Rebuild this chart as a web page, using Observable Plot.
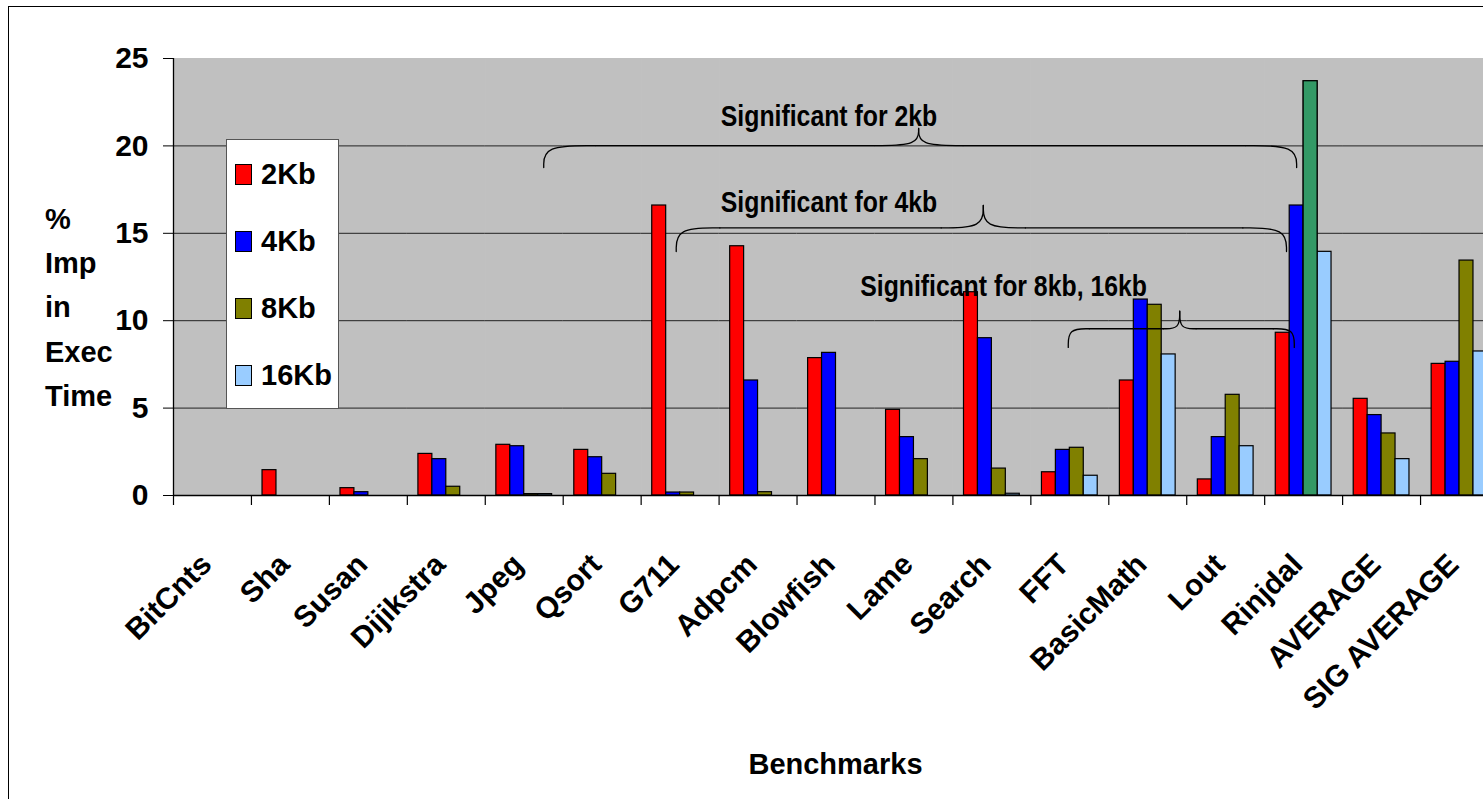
<!DOCTYPE html>
<html>
<head>
<meta charset="utf-8">
<script src="https://cdn.jsdelivr.net/npm/d3@7"></script>
<script src="https://cdn.jsdelivr.net/npm/@observablehq/plot@0.6"></script>
<style>
html,body{margin:0;padding:0;background:#fff;overflow:hidden;}
#wrap{position:relative;width:1483px;height:799px;overflow:hidden;font-family:"Liberation Sans",Arial,Helvetica,sans-serif;font-weight:bold;color:#000;}
#wrap svg{position:absolute;left:0;top:0;}
#outer{position:absolute;left:8px;top:6px;width:2000px;height:2000px;border:1.5px solid #000;pointer-events:none;}
#ylabel{position:absolute;left:45px;top:197px;font-size:29px;line-height:44.2px;}
#xlabel{position:absolute;left:173px;width:1325px;top:750px;text-align:center;font-size:29px;line-height:29px;}
#legend{position:absolute;left:226px;top:139px;width:113px;height:270px;box-sizing:border-box;background:#fff;border:1px solid #555;padding-top:1px;}
.row{height:67px;display:flex;align-items:center;padding-left:8px;font-size:29px;}
.sw{width:17px;height:21px;box-sizing:border-box;border:1px solid #000;margin-right:9px;flex:none;}
</style>
</head>
<body>
<div id="wrap"></div>
<script>
// ---- data ----
const categories = ["BitCnts","Sha","Susan","Dijikstra","Jpeg","Qsort","G711","Adpcm","Blowfish","Lame","Search","FFT","BasicMath","Lout","Rinjdal","AVERAGE","SIG AVERAGE"];
const series = ["2Kb","4Kb","8Kb","16Kb"];
const seriesColors = ["#ff0000","#0000ff","#808000","#99ccff"];
const values2Kb  = [0, 1.45, 0.42, 2.38, 2.90, 2.61, 16.59, 14.26, 7.86, 4.90, 11.63, 1.33, 6.58, 0.92, 9.31, 5.53, 7.53];
const values4Kb  = [0, 0, 0.19, 2.08, 2.82, 2.19, 0.17, 6.58, 8.16, 3.34, 9.00, 2.61, 11.21, 3.34, 16.59, 4.60, 7.65];
const values8Kb  = [0, 0, 0, 0.50, 0.08, 1.24, 0.17, 0.19, 0, 2.08, 1.54, 2.73, 10.91, 5.76, 23.70, 3.55, 13.44];
const values16Kb = [0, 0, 0, 0, 0.08, 0, 0, 0, 0, 0, 0.10, 1.13, 8.07, 2.82, 13.94, 2.08, 8.24];
const highlightCategory = "Rinjdal";
const highlightSeries = "8Kb";
const highlightColor = "#339966";
const yTicks = [0, 5, 10, 15, 20, 25];
const gridValues = [5, 10, 15, 20];
const yTitleLines = ["%", "Imp", "in", "Exec", "Time"];
const xTitle = "Benchmarks";

// annotations (x in category-index units, y in % units)
const braceLabels = ["Significant for 2kb", "Significant for 4kb", "Significant for 8kb, 16kb"];
const braceLabelX = [8.41, 8.41, 10.65];
const braceLabelY = [21.14, 16.2, 11.44];
const braceStart = [4.75, 6.45, 11.48];
const braceMid   = [9.56, 10.39, 12.91];
const braceEnd   = [14.41, 14.28, 14.38];
const braceTip   = [18.76, 13.96, 8.47];
const braceLevel = [20.02, 15.31, 9.54];
const braceCusp  = [21.0, 16.59, 10.54];
const braceCurl  = [0.66, 0.56, 0.27];
const braceNotch = [0.57, 0.54, 0.21];

// ---- build tables ----
const seriesValues = [values2Kb, values4Kb, values8Kb, values16Kb];
const rows = [];
categories.forEach((c, i) => series.forEach((s, j) => rows.push({cat: c, series: s, value: seriesValues[j][i]})));
const highlightRows = rows.filter(d => d.cat === highlightCategory && d.series === highlightSeries);
const categoryEdges = categories.map((_, i) => i);

const bracePoints = [];
braceLabels.forEach((_, i) => {
  const x1 = braceStart[i], xm = braceMid[i], x2 = braceEnd[i];
  const yt = braceTip[i], yl = braceLevel[i], yc = braceCusp[i];
  const w = braceCurl[i], c = braceNotch[i];
  const segs = [
    [[x1, yt], [x1, yl], [x1 + w, yl]],
    [[x1 + w, yl], [xm - c, yl]],
    [[xm - c, yl], [xm, yl], [xm, yc]],
    [[xm, yc], [xm, yl], [xm + c, yl]],
    [[xm + c, yl], [x2 - w, yl]],
    [[x2 - w, yl], [x2, yl], [x2, yt]]
  ];
  segs.forEach((seg, k) => seg.forEach(([x, y]) => bracePoints.push({x, y, seg: i + "-" + k})));
});

// ---- layout ----
const W = 1483, H = 799, ML = 173, MR = -15, MT = 58, MB = 304;
const FONT = "'Liberation Sans', Arial, Helvetica, sans-serif";
const baseStyle = {background: "transparent", overflow: "hidden", fontFamily: FONT, fontSize: "30px", fontWeight: "bold", color: "#000"};

const main = Plot.plot({
  width: W, height: H, marginLeft: ML, marginRight: MR, marginTop: MT, marginBottom: MB,
  style: baseStyle,
  fx: {domain: categories, padding: 0, round: false, axis: "bottom", label: null, tickRotate: -45, tickSize: 0, tickPadding: 64},
  x: {domain: series, paddingInner: 0, paddingOuter: 0.795, round: false, axis: null},
  y: {domain: [0, 25], ticks: yTicks, tickSize: 10, tickPadding: 15, label: null},
  color: {domain: series, range: seriesColors},
  marks: [
    Plot.frame({fill: "#c0c0c0", stroke: "#c0c0c0"}),
    Plot.ruleY(gridValues, {stroke: "#222", strokeWidth: 1}),
    Plot.barY(rows, {fx: "cat", x: "series", y: "value", fill: "series", stroke: "#000", strokeWidth: 1.2}),
    Plot.barY(highlightRows, {fx: "cat", x: "series", y: "value", fill: highlightColor, stroke: "#000", strokeWidth: 1.2})
  ]
});

const overlay = Plot.plot({
  width: W, height: H, marginLeft: ML, marginRight: MR, marginTop: MT, marginBottom: MB,
  style: baseStyle,
  x: {type: "linear", domain: [0, categories.length], axis: null},
  y: {domain: [0, 25], axis: null},
  marks: [
    Plot.ruleY([0], {stroke: "#000", strokeWidth: 1.3}),
    Plot.ruleX([0], {y1: 0, y2: 25, stroke: "#000", strokeWidth: 1.3}),
    Plot.ruleX(categoryEdges, {y1: 0, y2: 0, insetBottom: -10, stroke: "#000", strokeWidth: 1.2}),
    Plot.line(bracePoints, {x: "x", y: "y", z: "seg", curve: "basis", stroke: "#000", strokeWidth: 1.3}),
    Plot.text(braceLabels, {x: (d, i) => braceLabelX[i], y: (d, i) => braceLabelY[i], text: d => d, lineAnchor: "bottom", textAnchor: "middle", fontSize: 30, fontWeight: "bold", fill: "#000"})
  ]
});

const wrap = document.getElementById("wrap");
wrap.appendChild(main);
wrap.appendChild(overlay);

// nudge the rotated category labels so their ends sit just left of each category centre
d3.select(main).selectAll("g[aria-label^='fx-axis']").each(function() {
  const t = this.getAttribute("transform") || "";
  this.setAttribute("transform", "translate(-6,0) " + t);
});

// condensed annotation lettering
d3.select(overlay).selectAll("g[aria-label='text'] text").each(function() {
  const L = this.getComputedTextLength();
  this.setAttribute("textLength", (L * 0.827).toFixed(1));
  this.setAttribute("lengthAdjust", "spacingAndGlyphs");
});

// legend
const legend = document.createElement("div");
legend.id = "legend";
series.forEach((s, j) => {
  const r = document.createElement("div");
  r.className = "row";
  const sw = document.createElement("span");
  sw.className = "sw";
  sw.style.background = seriesColors[j];
  const t = document.createElement("span");
  t.textContent = s;
  r.appendChild(sw); r.appendChild(t);
  legend.appendChild(r);
});
wrap.appendChild(legend);

const yl = document.createElement("div");
yl.id = "ylabel";
yl.innerHTML = yTitleLines.join("<br>");
wrap.appendChild(yl);

const xl = document.createElement("div");
xl.id = "xlabel";
xl.textContent = xTitle;
wrap.appendChild(xl);

const outer = document.createElement("div");
outer.id = "outer";
wrap.appendChild(outer);
</script>
</body>
</html>
